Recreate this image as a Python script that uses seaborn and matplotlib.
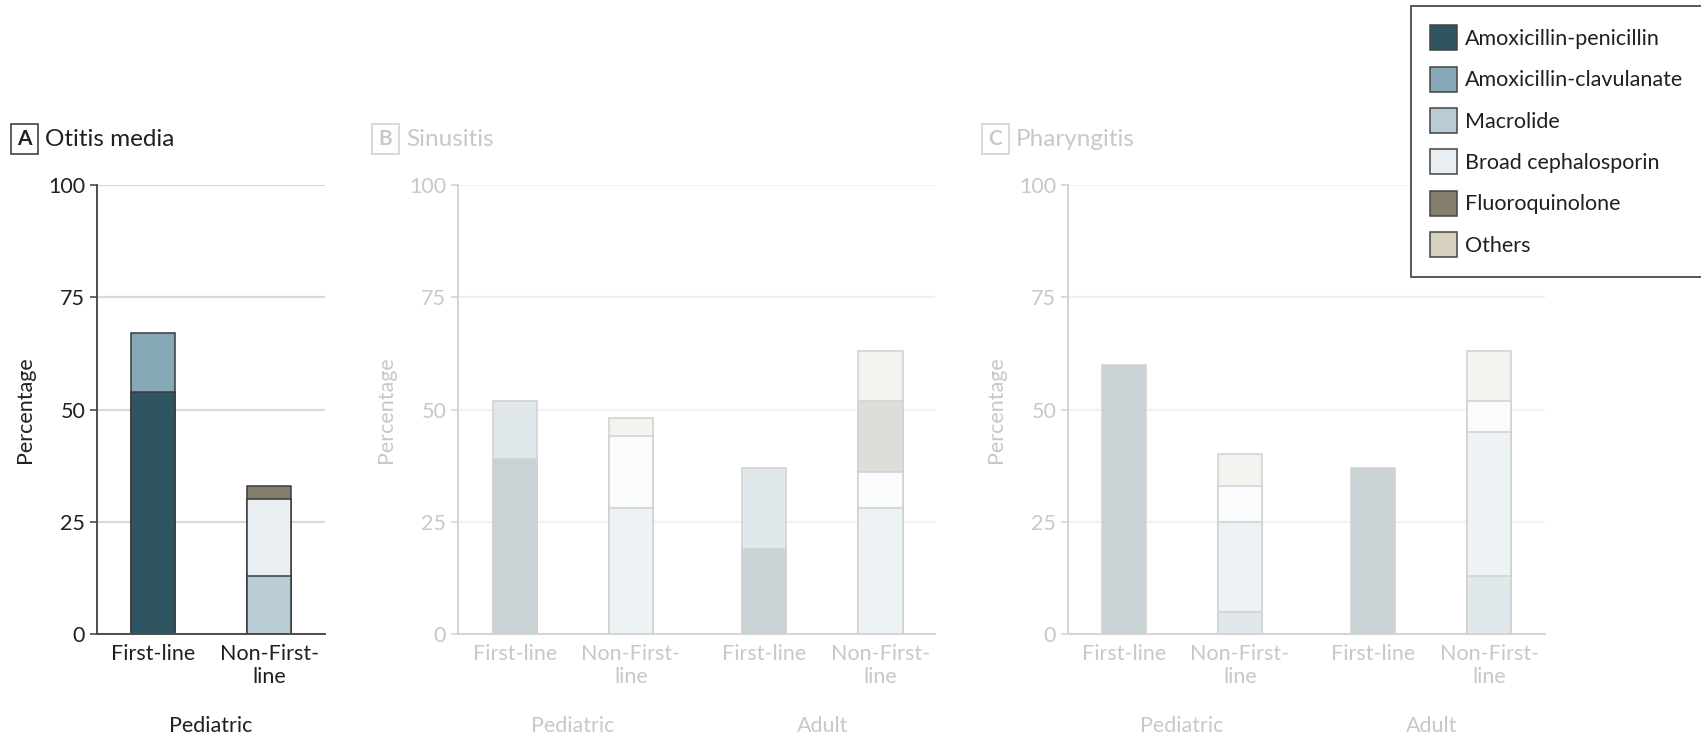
import numpy as np
import pandas as pd
import matplotlib
matplotlib.use("Agg")
import matplotlib.pyplot as plt
from matplotlib.patches import Patch, Rectangle
from matplotlib.colors import to_rgb
import seaborn as sns

# Antibiotic classes and their fill colours
drugs = ["Amoxicillin-penicillin", "Amoxicillin-clavulanate", "Macrolide",
         "Broad cephalosporin", "Fluoroquinolone", "Others"]
drug_colors = ["#2E5561", "#87A8B6", "#B9CCD6", "#E9EEF3", "#857D6E", "#D6D1C1"]

bar_labels = ["First-line", "Non-First-\nline"]

# Percentages per bar (rows) and class (columns, same order as `drugs`)
otitis_groups = ["Pediatric"]
otitis_values = [
    [54, 13, 0, 0, 0, 0],    # Pediatric, first-line
    [0, 0, 13, 17, 3, 0],    # Pediatric, non-first-line
]

sinusitis_groups = ["Pediatric", "Adult"]
sinusitis_values = [
    [39, 13, 0, 0, 0, 0],    # Pediatric, first-line
    [0, 0, 28, 16, 0, 4],    # Pediatric, non-first-line
    [19, 18, 0, 0, 0, 0],    # Adult, first-line
    [0, 0, 28, 8, 16, 11],   # Adult, non-first-line
]

pharyngitis_groups = ["Pediatric", "Adult"]
pharyngitis_values = [
    [60, 0, 0, 0, 0, 0],     # Pediatric, first-line
    [0, 5, 20, 8, 0, 7],     # Pediatric, non-first-line
    [37, 0, 0, 0, 0, 0],     # Adult, first-line
    [0, 13, 32, 7, 0, 11],   # Adult, non-first-line
]

yticks = [0, 25, 50, 75, 100]

sns.set_theme(style="white")
plt.rcParams["font.family"] = ["Lato", "DejaVu Sans"]

W, H = 1701, 737
fig = plt.figure(figsize=(W / 100, H / 100), dpi=100)

BASE_PX, TOP_PX = 634, 185


def fade(color, a=0.26):
    r, g, b = to_rgb(color)
    return (1 - a + a * r, 1 - a + a * g, 1 - a + a * b)


def draw_panel(letter, title, values, groups, left_px, right_px, xlim, faded):
    ax = fig.add_axes([left_px / W, (H - BASE_PX) / H,
                       (right_px - left_px) / W, (BASE_PX - TOP_PX) / H])
    n = len(values)
    positions = [0, 1, 2.15, 3.15][:n]

    if faded:
        colors = [fade(c) for c in drug_colors]
        text_c, spine_c, grid_c, edge_c = "#C8C8C8", "#D4D4D4", "#F1F1F1", "#D0D0D0"
    else:
        colors = drug_colors
        text_c, spine_c, grid_c, edge_c = "#231F20", "#4D4D4D", "#D9D9D9", "#3A3A3A"

    # stacked bars: each class drawn as a bar up to its cumulative top,
    # from the top class down so the lower segments cover the taller ones
    vals = np.array(values, dtype=float)
    tops = vals.cumsum(axis=1)
    rows = []
    for i, pos in enumerate(positions):
        for j, d in enumerate(drugs):
            if vals[i, j] > 0:
                rows.append({"pos": pos, "top": tops[i, j], "drug": d})
    df = pd.DataFrame(rows)
    sns.barplot(data=df, x="pos", y="top", hue="drug", hue_order=drugs[::-1],
                palette=dict(zip(drugs, colors)), dodge=False, native_scale=True,
                width=0.38, errorbar=None, edgecolor=edge_c, linewidth=1.1,
                saturation=1, legend=False, ax=ax, zorder=3)

    ax.set_xlim(*xlim)
    ax.set_ylim(0, 100)
    ax.set_yticks(yticks)
    ax.set_yticklabels([str(t) for t in yticks])
    ax.set_xticks(positions)
    ax.set_xticklabels(bar_labels * (n // 2))
    ax.grid(axis="y", color=grid_c, linewidth=1.6, zorder=0)
    ax.grid(axis="x", visible=False)
    ax.set_axisbelow(True)
    for s in ["top", "right"]:
        ax.spines[s].set_visible(False)
    for s in ["left", "bottom"]:
        ax.spines[s].set_color(spine_c)
        ax.spines[s].set_linewidth(1.4)
        ax.spines[s].set_zorder(4)
    ax.tick_params(axis="y", length=5, width=1.2, color=spine_c, pad=3.5,
                   labelsize=15.5, labelcolor=text_c, left=True)
    ax.tick_params(axis="x", length=0, pad=7, labelsize=15.5, labelcolor=text_c)

    ax.set_xlabel("")
    ax.set_ylabel("Percentage", fontsize=15.5, color=text_c)
    ax_w = right_px - left_px
    ax.yaxis.set_label_coords(-62 / ax_w, 0.5)

    for k, g in enumerate(groups):
        xc = (positions[2 * k] + positions[2 * k + 1]) / 2
        ax.annotate(g, xy=(xc, 0), xycoords=("data", "axes fraction"),
                    xytext=(0, -66), textcoords="offset points",
                    ha="center", va="center", fontsize=15.5, color=text_c)

    # panel letter box and title
    bx0, bx1 = left_px - 86, left_px - 59
    by0, by1 = 124, 154
    fig.add_artist(Rectangle((bx0 / W, 1 - by1 / H), (bx1 - bx0) / W, (by1 - by0) / H,
                             transform=fig.transFigure, fill=False,
                             edgecolor="#333333" if not faded else "#CFCFCF",
                             linewidth=1.1))
    fig.text((bx0 + bx1) / 2 / W, 1 - 139 / H, letter, ha="center", va="center",
             fontsize=15, fontweight="bold", color=text_c)
    fig.text((bx1 + 7) / W, 1 - 139 / H, title, ha="left", va="center",
             fontsize=17.5, color=text_c)
    return ax


draw_panel("A", "Otitis media", otitis_values, otitis_groups, 97, 325, (-0.48, 1.48), False)
draw_panel("B", "Sinusitis", sinusitis_values, sinusitis_groups, 458, 935, (-0.49, 3.62), True)
draw_panel("C", "Pharyngitis", pharyngitis_values, pharyngitis_groups, 1068, 1545, (-0.48, 3.63), True)

handles = [Patch(facecolor=c, edgecolor="#444444", linewidth=1.1, label=d)
           for d, c in zip(drugs, drug_colors)]
leg = fig.legend(handles=handles, loc="upper left",
                 bbox_to_anchor=(1411 / W, 1 - 6 / H), bbox_transform=fig.transFigure,
                 fontsize=15.5, frameon=True, fancybox=False, framealpha=1,
                 borderpad=0.9, labelspacing=0.76, handlelength=1.25,
                 handleheight=1.41, handletextpad=0.37, borderaxespad=0)
leg.get_frame().set_edgecolor("#4A4A4A")
leg.get_frame().set_linewidth(1.3)
for t in leg.get_texts():
    t.set_color("#231F20")
leg.set_zorder(10)

fig.savefig("out.png", dpi=100, facecolor="white")
